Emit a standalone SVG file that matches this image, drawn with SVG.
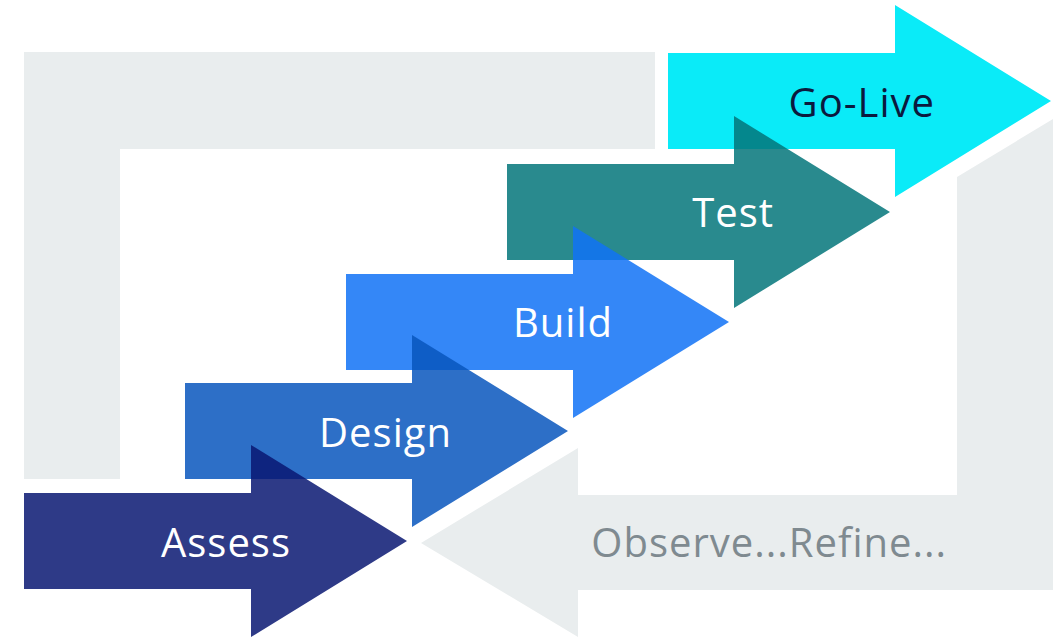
<svg xmlns="http://www.w3.org/2000/svg" width="1061" height="637" viewBox="0 0 1061 637">
<style>
.loop{fill:#e9edee}
.lbl{font-family:"Open Sans","Liberation Sans",sans-serif;font-size:40px;text-anchor:end;letter-spacing:1px}
.w{fill:#ffffff}
</style>
<defs>
<path id="arr" d="M0,-48 H227 V-96 L383,0 L227,96 V48 H0 Z"/>
</defs>
<rect width="1061" height="637" fill="#ffffff"/>
<g id="loop">
<path class="loop" d="M24,52 H655 V149 H120 V479 H24 Z"/>
<path class="loop" d="M957,177 L1053,119 V590 H578 V637 L421,543 L578,448 V495 H957 Z"/>
<text x="947" y="557" class="lbl" style="fill:#7f8a90">Observe...Refine...</text>
</g>
<g id="connectors"></g>
<g id="golive">
<use href="#arr" x="668" y="101" fill="#0aebf8"/>
<text x="935" y="117" class="lbl" style="fill:#0b1a3e">Go-Live</text>
</g>
<g id="test">
<use href="#arr" x="507" y="212" fill="#04757a" fill-opacity="0.85"/>
<text x="774" y="227" class="lbl w">Test</text>
</g>
<g id="build">
<use href="#arr" x="346" y="322" fill="#1172f6" fill-opacity="0.85"/>
<text x="613" y="337" class="lbl w">Build</text>
</g>
<g id="design">
<use href="#arr" x="185" y="431" fill="#0856bd" fill-opacity="0.85"/>
<text x="452" y="447" class="lbl w">Design</text>
</g>
<g id="assess">
<use href="#arr" x="24" y="541" fill="#091772" fill-opacity="0.85"/>
<text x="291" y="557" class="lbl w">Assess</text>
</g>
</svg>
